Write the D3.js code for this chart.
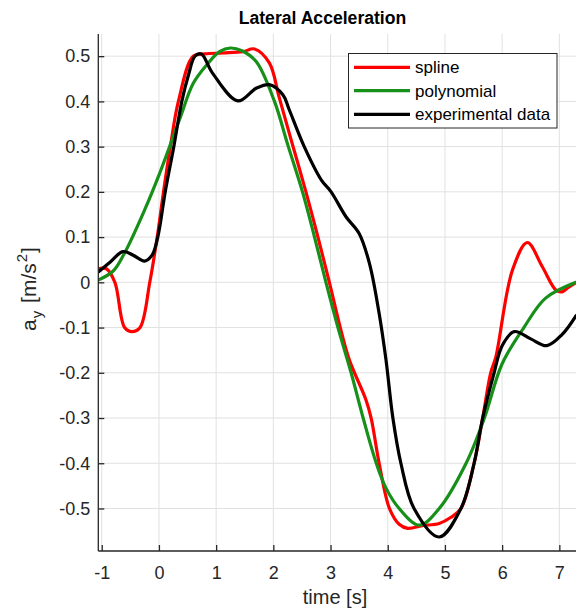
<!DOCTYPE html>
<html>
<head>
<meta charset="utf-8">
<script src="https://cdn.jsdelivr.net/npm/d3@7"></script>
<style>
  body { margin: 0; background: #fff; }
  text { font-family: "Liberation Sans", Arial, Helvetica, sans-serif; }
</style>
</head>
<body>
<svg id="chart" width="576" height="612"></svg>
<script>
// Lateral acceleration a_y [m/s^2] against time [s]
const splineTime  = [-1.06, -0.92, -0.77, -0.6, -0.47, -0.33, -0.16, -0.03, 0.08, 0.2, 0.34, 0.6, 0.8, 1.12, 1.47, 1.67, 1.93, 2.1, 2.3, 2.57, 2.78, 2.98, 3.17, 3.33, 3.62, 3.71, 3.85, 4.03, 4.2, 4.35, 4.6, 4.9, 5.1, 5.28, 5.51, 5.66, 5.8, 5.89, 6.18, 6.44, 6.7, 6.94, 7.05, 7.15, 7.29];
const splineAccel = [0.03, 0.03, 0.0, -0.1, -0.109, -0.1, 0.0, 0.1, 0.2, 0.3, 0.4, 0.5, 0.505, 0.507, 0.51, 0.516, 0.485, 0.41, 0.32, 0.2, 0.1, 0.0, -0.1, -0.172, -0.26, -0.3, -0.4, -0.5, -0.535, -0.544, -0.538, -0.533, -0.52, -0.5, -0.4, -0.3, -0.2, -0.165, 0.027, 0.088, 0.035, -0.017, -0.021, -0.012, -0.001];

const polyTime  = [-1.06, -0.8, -0.6, -0.25, 0.0, 0.36, 0.6, 0.83, 1.06, 1.25, 1.45, 1.7, 2.02, 2.25, 2.51, 2.72, 2.92, 3.13, 3.36, 3.57, 3.8, 3.97, 4.2, 4.55, 4.9, 5.37, 5.69, 6.0, 6.38, 6.76, 7.29];
const polyAccel = [0.005, 0.025, 0.065, 0.16, 0.237, 0.36, 0.44, 0.48, 0.51, 0.518, 0.512, 0.488, 0.4, 0.305, 0.2, 0.1, 0.0, -0.1, -0.2, -0.3, -0.4, -0.455, -0.5, -0.537, -0.5, -0.4, -0.3, -0.18, -0.1, -0.035, 0.0];

const expTime  = [-1.06, -0.85, -0.63, -0.45, -0.25, -0.12, -0.02, 0.11, 0.26, 0.4, 0.52, 0.63, 0.74, 0.94, 1.38, 1.7, 1.93, 2.17, 2.28, 2.54, 2.84, 3.01, 3.27, 3.5, 3.68, 3.85, 3.97, 4.09, 4.23, 4.46, 4.9, 5.28, 5.51, 5.66, 5.86, 6.0, 6.21, 6.5, 6.78, 7.05, 7.29];
const expAccel = [0.023, 0.045, 0.068, 0.06, 0.047, 0.06, 0.1, 0.2, 0.3, 0.4, 0.46, 0.5, 0.505, 0.462, 0.401, 0.429, 0.437, 0.414, 0.381, 0.3, 0.226, 0.2, 0.145, 0.108, 0.042, -0.069, -0.172, -0.3, -0.4, -0.5, -0.563, -0.5, -0.4, -0.3, -0.2, -0.14, -0.109, -0.125, -0.14, -0.115, -0.074];

const xTicks = [-1, 0, 1, 2, 3, 4, 5, 6, 7];
const yTicks = [-0.5, -0.4, -0.3, -0.2, -0.1, 0, 0.1, 0.2, 0.3, 0.4, 0.5];

const seriesNames = ["spline", "polynomial", "experimental data"];
const seriesColors = ["#ff0000", "#17901a", "#000000"];

const series = [
  { name: seriesNames[0], color: seriesColors[0], t: splineTime, v: splineAccel },
  { name: seriesNames[1], color: seriesColors[1], t: polyTime,   v: polyAccel },
  { name: seriesNames[2], color: seriesColors[2], t: expTime,    v: expAccel }
];

const svg = d3.select("#chart");
const plotLeft = 98.3, plotRight = 576.5, plotTop = 34, plotBottom = 551;

const x = d3.scaleLinear().domain([-1.06, 7.3]).range([plotLeft, plotRight]);
const y = d3.scaleLinear().domain([-0.594, 0.549]).range([plotBottom, plotTop]);

const axisColor = "#262626";
const gridColor = "#e1e1e1";

// grid
const grid = svg.append("g");
grid.selectAll("line.gx").data(xTicks).join("line")
  .attr("class", "gx")
  .attr("x1", d => x(d)).attr("x2", d => x(d))
  .attr("y1", plotTop).attr("y2", plotBottom)
  .attr("stroke", gridColor).attr("stroke-width", 1);
grid.selectAll("line.gy").data(yTicks).join("line")
  .attr("class", "gy")
  .attr("x1", plotLeft).attr("x2", plotRight)
  .attr("y1", d => y(d)).attr("y2", d => y(d))
  .attr("stroke", gridColor).attr("stroke-width", 1);

// clip for curves
svg.append("defs").append("clipPath").attr("id", "plotClip")
  .append("rect").attr("x", plotLeft).attr("y", plotTop)
  .attr("width", plotRight - plotLeft).attr("height", plotBottom - plotTop);

const line = d3.line()
  .x(d => x(d[0]))
  .y(d => y(d[1]))
  .curve(d3.curveCatmullRom.alpha(0.5));

const curves = svg.append("g").attr("clip-path", "url(#plotClip)");
series.forEach(s => {
  const pts = s.t.map((t, i) => [t, s.v[i]]);
  curves.append("path")
    .datum(pts)
    .attr("d", line)
    .attr("fill", "none")
    .attr("stroke", s.color)
    .attr("stroke-width", 3.2)
    .attr("stroke-linejoin", "round")
    .attr("stroke-linecap", "round");
});

// axes (ticks point inward)
const fmt = d => String(+d.toFixed(1));
const xAxis = svg.append("g").attr("transform", `translate(0,${plotBottom})`)
  .call(d3.axisBottom(x).tickValues(xTicks).tickFormat(fmt).tickSizeInner(-6).tickSizeOuter(0).tickPadding(15));
const yAxis = svg.append("g").attr("transform", `translate(${plotLeft},0)`)
  .call(d3.axisLeft(y).tickValues(yTicks).tickFormat(fmt).tickSizeInner(-6).tickSizeOuter(0).tickPadding(8));

[xAxis, yAxis].forEach(g => {
  g.select(".domain").attr("stroke", axisColor).attr("stroke-width", 1.3);
  g.selectAll(".tick line").attr("stroke", axisColor).attr("stroke-width", 1.3);
  g.selectAll(".tick text").attr("fill", axisColor)
    .style("font-size", "18px");
});
xAxis.select(".domain").attr("d", `M${plotLeft},0H${plotRight}`);
yAxis.select(".domain").attr("d", `M0,${plotTop}V${plotBottom}`);

// title
svg.append("text")
  .attr("x", 322.5).attr("y", 24)
  .attr("text-anchor", "middle")
  .style("font-size", "17.6px").style("font-weight", "bold")
  .attr("fill", "#000")
  .text("Lateral Acceleration");

// axis labels
svg.append("text")
  .attr("x", 335).attr("y", 604)
  .attr("text-anchor", "middle")
  .style("font-size", "20px")
  .attr("fill", axisColor)
  .text("time [s]");

const yl = svg.append("text")
  .attr("transform", "translate(36,289) rotate(-90)")
  .attr("text-anchor", "middle")
  .style("font-size", "21px")
  .attr("fill", axisColor);
yl.append("tspan").text("a");
yl.append("tspan").attr("dy", 6).attr("dx", 1).style("font-size", "15px").text("y");
yl.append("tspan").attr("dy", -6).attr("dx", 2).text(" [m/s");
yl.append("tspan").attr("dy", -9).attr("dx", 1).style("font-size", "15px").text("2");
yl.append("tspan").attr("dy", 9).attr("dx", 1).text("]");

// legend
const lg = svg.append("g");
lg.append("rect")
  .attr("x", 348.5).attr("y", 53.5)
  .attr("width", 208.5).attr("height", 74.5)
  .attr("fill", "#fff").attr("stroke", axisColor).attr("stroke-width", 1);
const rowY = [67.3, 90.7, 114.3];
series.forEach((s, i) => {
  lg.append("line")
    .attr("x1", 354).attr("x2", 410)
    .attr("y1", rowY[i]).attr("y2", rowY[i])
    .attr("stroke", s.color).attr("stroke-width", 3.2);
  lg.append("text")
    .attr("x", 415).attr("y", rowY[i] + 6)
    .style("font-size", "17px")
    .attr("fill", "#000")
    .text(s.name);
});
</script>
</body>
</html>
